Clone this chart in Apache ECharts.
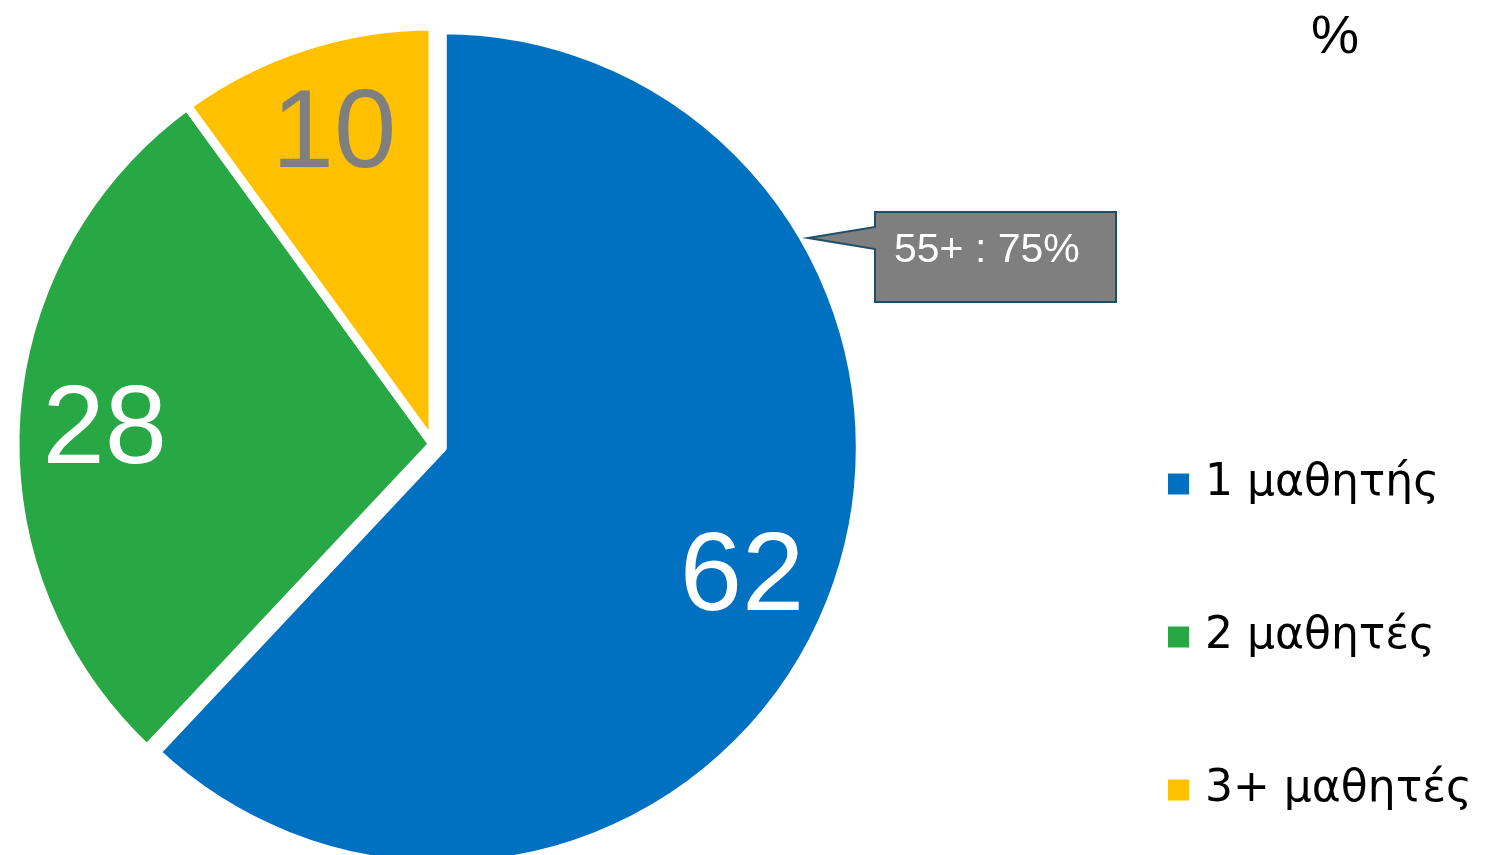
<!DOCTYPE html>
<html><head><meta charset="utf-8">
<script src="https://cdn.jsdelivr.net/npm/echarts@6/dist/echarts.min.js"></script>
<style>html,body{margin:0;padding:0;background:#fff}#c{width:1486px;height:855px}</style>
</head><body><div id="c"></div>
<script>
const categories = ['1 μαθητής', '2 μαθητές', '3+ μαθητές'];
const values = [62, 28, 10];
const colors = ['#0070C0', '#28A745', '#FFC000'];
const labelColors = ['#FFFFFF', '#FFFFFF', '#7F7F7F'];
const unitTitle = '%';
const calloutText = '55+ : 75%';

const chart = echarts.init(document.getElementById('c'));
const cx = 433, cy = 444, R = 418;
const FONT = '"Liberation Sans", Arial, sans-serif';
const LFONT = '"DejaVu Sans", sans-serif';
const labelOffsets = [[5, 15], [-2, 9], [2, 3]];

const baseData = categories.map((n, i) => ({
  name: n, value: values[i], selected: i === 0,
  itemStyle: { color: colors[i] }
}));
const labelData = categories.map((n, i) => ({
  name: n, value: values[i],
  label: { color: labelColors[i], offset: labelOffsets[i] }
}));

chart.setOption({
  animation: false,
  title: {
    text: unitTitle, left: 1306, top: 6,
    textStyle: { fontFamily: FONT, fontSize: 54, fontWeight: 'normal', color: '#000' }
  },
  legend: {
    orient: 'vertical', left: 1161, top: 454,
    data: categories,
    icon: 'rect', itemWidth: 23, itemHeight: 23, itemGap: 103,
    textStyle: { fontFamily: LFONT, fontSize: 44, color: '#000', lineHeight: 50, padding: [0, 0, 0, 10] }
  },
  series: [{
    type: 'pie', center: [cx, cy], radius: [0, R], z: 2,
    startAngle: 90, clockwise: true,
    selectedMode: 'single', selectedOffset: 10,
    silent: true,
    itemStyle: { borderColor: '#fff', borderWidth: 9 },
    label: { show: false }, labelLine: { show: false },
    data: baseData
  }, {
    type: 'pie', center: [cx, cy], radius: [R * 0.35, R * 1.2], z: 6,
    startAngle: 90, clockwise: true,
    silent: true, avoidLabelOverlap: false,
    itemStyle: { color: 'rgba(0,0,0,0)' },
    label: {
      show: true, position: 'inside', formatter: '{c}',
      fontFamily: FONT, fontSize: 112
    },
    labelLine: { show: false },
    data: labelData
  }],
  graphic: [{
    type: 'polygon', z: 10,
    shape: { points: [[875, 212], [1116, 212], [1116, 302], [875, 302], [875, 249], [808, 238], [875, 227]] },
    style: { fill: '#7F7F7F', stroke: '#1F4E6B', lineWidth: 2 }
  }, {
    type: 'text', left: 894, top: 230, z: 11,
    style: { text: calloutText, fill: '#fff', font: '41px ' + FONT }
  }]
});
</script></body></html>
